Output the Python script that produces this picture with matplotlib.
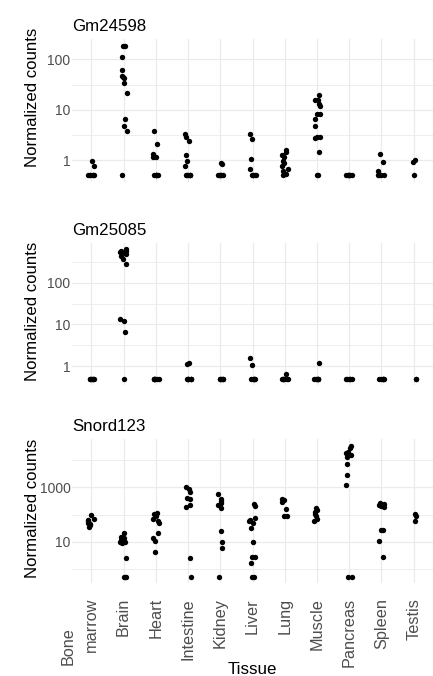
import numpy as np
import matplotlib
matplotlib.use("Agg")
import matplotlib.pyplot as plt
from matplotlib.ticker import FixedLocator, NullFormatter, FuncFormatter

plt.rcParams['font.family'] = ['Liberation Sans', 'DejaVu Sans']

# ---------------- data ----------------
tissues = ["Bone marrow", "Brain", "Heart", "Intestine", "Kidney", "Liver",
           "Lung", "Muscle", "Pancreas", "Spleen", "Testis"]
tick_labels = ["Bone\nmarrow", "Brain", "Heart", "Intestine", "Kidney", "Liver",
               "Lung", "Muscle", "Pancreas", "Spleen", "Testis"]

genes = ["Gm24598", "Gm25085", "Snord123"]

gm24598 = {
    "Bone marrow": [0.94, 0.76, 0, 0, 0, 0, 0, 0],
    "Brain": [187, 183, 113, 62, 46, 45, 43, 34, 22, 6.6, 4.8, 3.7, 0],
    "Heart": [3.7, 2.1, 1.3, 1.17, 1.13, 0, 0, 0, 0, 0, 0],
    "Intestine": [3.3, 2.84, 2.4, 1.26, 0.97, 0.77, 0, 0, 0, 0, 0, 0],
    "Kidney": [0.88, 0.83, 0, 0, 0, 0, 0, 0],
    "Liver": [3.3, 2.6, 1.03, 0.66, 0, 0, 0, 0, 0],
    "Lung": [1.58, 1.42, 1.28, 1.13, 0.97, 0.87, 0.75, 0.67, 0.60, 0.54, 0],
    "Muscle": [19.4, 15.8, 15.4, 13.2, 11.7, 8.3, 8.2, 6.6, 4.8, 2.9, 2.84, 2.76, 1.42, 0, 0],
    "Pancreas": [0, 0, 0, 0, 0, 0, 0],
    "Spleen": [1.3, 0.9, 0.61, 0, 0, 0, 0],
    "Testis": [1.0, 0.9, 0],
}

gm25085 = {
    "Bone marrow": [0, 0, 0, 0, 0, 0, 0],
    "Brain": [650, 600, 580, 560, 540, 500, 450, 380, 290, 13.7, 12.0, 6.5, 0],
    "Heart": [0, 0, 0, 0, 0, 0, 0],
    "Intestine": [1.18, 1.1, 0, 0, 0, 0, 0, 0, 0],
    "Kidney": [0, 0, 0, 0, 0, 0],
    "Liver": [1.58, 1.06, 0, 0, 0, 0, 0, 0],
    "Lung": [0.65, 0, 0, 0, 0, 0, 0, 0],
    "Muscle": [1.18, 0, 0, 0, 0, 0, 0],
    "Pancreas": [0, 0, 0, 0, 0, 0],
    "Spleen": [0, 0, 0, 0, 0, 0],
    "Testis": [0, 0],
}

snord123 = {
    "Bone marrow": [98, 70, 61, 56, 48, 43, 40, 34],
    "Brain": [20.4, 14.5, 13.3, 11.9, 10, 9.4, 8.9, 2.46, 0, 0, 0],
    "Heart": [117, 108, 86, 70, 56, 48, 20.4, 13.3, 10.9, 4.2],
    "Intestine": [1000, 850, 690, 425, 367, 219, 190, 2.46, 0],
    "Kidney": [560, 390, 318, 268, 219, 174, 24, 10, 5.8, 0],
    "Liver": [240, 200, 76, 64, 56, 48, 32, 10, 2.8, 2.8, 1.55, 0, 0],
    "Lung": [390, 337, 293, 165, 88, 86],
    "Muscle": [174, 151, 124, 101, 86, 70, 57],
    "Pancreas": [34700, 28300, 21200, 18500, 15900, 13700, 7400, 3020, 1290, 0, 0],
    "Spleen": [268, 253, 232, 219, 200, 190, 27, 27, 10.3, 2.76],
    "Testis": [108, 86, 57],
}

major_breaks = {
    "Gm24598": [1, 10, 100],
    "Gm25085": [1, 10, 100],
    "Snord123": [10, 1000],
}

gene_data = {"Gm24598": gm24598, "Gm25085": gm25085, "Snord123": snord123}

ZERO_FLOOR = 0.5  # zeros are shown at 0.5 on the log axis

# ---------------- layout (pixels) ----------------
W, H = 433, 676
DPI = 100
fig = plt.figure(figsize=(W / DPI, H / DPI), dpi=DPI)
fig.patch.set_facecolor("white")

left_px, right_px = 72, 433
panels_px = [(39.3, 181.7), (242.7, 385.0), (439.3, 583.3)]
ylabel_center_px = [97.5, 311.0, 508.5]

PX = 72.0 / DPI  # points per pixel
grid_col = "#EBEBEB"
tick_col = "#4D4D4D"

rng = np.random.default_rng(7)

for gi, gene in enumerate(genes):
    top, bot = panels_px[gi]
    ax = fig.add_axes([left_px / W, 1 - bot / H, (right_px - left_px) / W, (bot - top) / H])
    data = gene_data[gene]
    allv = []
    for ti, t in enumerate(tissues):
        v = np.asarray(data[t], dtype=float)
        v = np.where(v == 0, ZERO_FLOOR, v)
        allv.extend(v)
        x = ti + rng.uniform(-0.1, 0.1, len(v))
        ax.scatter(x, v, s=15, color="black", linewidths=0, zorder=3)
    ax.set_yscale("log")
    lo, hi = np.log10(min(allv)), np.log10(max(allv))
    pad = 0.05 * (hi - lo)
    ax.set_ylim(10 ** (lo - pad), 10 ** (hi + pad))
    ax.set_xlim(-0.6, len(tissues) - 0.4)

    b = major_breaks[gene]
    r = b[1] / b[0]
    ext = [b[0] / r] + list(b) + [b[-1] * r]
    minor = [np.sqrt(ext[i] * ext[i + 1]) for i in range(len(ext) - 1)]
    ax.yaxis.set_major_locator(FixedLocator(b))
    ax.yaxis.set_major_formatter(FuncFormatter(lambda v, _: f"{v:g}"))
    ax.yaxis.set_minor_locator(FixedLocator(minor))
    ax.yaxis.set_minor_formatter(NullFormatter())

    ax.set_xticks(range(len(tissues)))
    ax.xaxis.set_minor_locator(FixedLocator([]))
    ax.set_axisbelow(True)
    ax.grid(which="major", color=grid_col, lw=0.9)
    ax.grid(which="minor", axis="y", color=grid_col, lw=0.6)
    for s in ax.spines.values():
        s.set_visible(False)
    ax.tick_params(axis="both", which="both", length=0)
    ax.tick_params(axis="y", pad=1.0, labelsize=10, labelcolor=tick_col)

    if gi < 2:
        ax.set_xticklabels([""] * len(tissues))
    else:
        labs = [l.split("\n")[-1] for l in tick_labels]
        ax.set_xticklabels(labs, rotation=90, va="top", ha="center",
                           fontsize=11.7, color=tick_col)
        ax.tick_params(axis="x", pad=14.7 * PX)
        # first lines of multi-line labels
        for ti, l in enumerate(tick_labels):
            parts = l.split("\n")
            if len(parts) > 1:
                ax.annotate(parts[0], xy=(ti, 0), xycoords=("data", "axes fraction"),
                            xytext=(-23 * PX, -(627 - bot) * PX), textcoords="offset points",
                            rotation=90, ha="center", va="top", fontsize=11.7, color=tick_col,
                            annotation_clip=False)

    ax.annotate(gene, xy=(0, 1), xycoords="axes fraction", xytext=(0, 8 * PX),
                textcoords="offset points", ha="left", va="baseline", fontsize=12.2,
                color="black")

    fig.text(37.3 / W, 1 - ylabel_center_px[gi] / H, "Normalized counts", rotation=90,
             rotation_mode="anchor", ha="center", va="baseline", fontsize=12.1, color="black")

fig.text((left_px + right_px) / 2 / W, 1 - 674 / H, "Tissue", ha="center", va="baseline",
         fontsize=12.2, color="black")

fig.savefig("out.png", dpi=DPI)
